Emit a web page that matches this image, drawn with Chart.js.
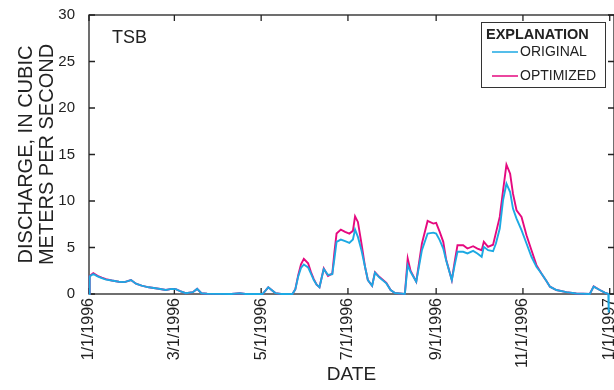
<!DOCTYPE html>
<html lang="en">
<head>
  <meta charset="UTF-8">
  <title>TSB Discharge</title>
  <script src="https://cdn.jsdelivr.net/npm/chart.js"></script>
</head>
<style>
  html, body {
    margin: 0;
    padding: 0;
    background: #ffffff;
  }
  .wrap {
    width: 614px;
    height: 390px;
  }
</style>
<body>

<div class="wrap">
  <canvas id="flowChart" width="614" height="390"></canvas>
</div>

<script>
  // days since 1/1/1996
  const days = [
    0, 0.5, 3, 6, 9, 12, 16, 21, 25, 29.5, 33, 37, 42, 49, 54, 58, 61, 64, 68, 73,
    76, 79, 83, 100, 106, 110, 122, 126, 131, 135, 143, 145, 147, 149, 151, 154, 156, 158, 160, 162,
    165, 168, 171, 172.5, 174, 177, 180, 183, 185.5, 187, 189, 191.5, 194, 196, 199, 201, 204, 209, 212, 215,
    222, 224, 226, 230, 234, 238, 242, 244, 246.5, 249, 251, 255, 257, 259, 263, 266, 270, 273, 276, 277.5,
    280.5, 284, 286, 288.7, 291, 293.4, 296, 298, 300.5, 304, 307.5, 311, 314.5, 318, 321.5, 324, 328.5, 335.5, 342.5, 352,
    354.7, 359, 362.5, 365, 365.3
  ];

  const originalFlow = [
    0, 1.9, 2.15, 1.9, 1.7, 1.55, 1.45, 1.32, 1.28, 1.5, 1.1, 0.9, 0.72, 0.57, 0.43, 0.55, 0.52, 0.3, 0.08, 0.2,
    0.55, 0.08, 0.02, 0, 0.08, 0, 0, 0.72, 0.1, 0, 0, 0.5, 1.86, 2.8, 3.18, 2.86, 2.2, 1.5, 1.0, 0.72,
    2.68, 2.04, 2.14, 3.8, 5.6, 5.85, 5.68, 5.5, 5.86, 6.93, 6.14, 4.71, 2.93, 1.5, 0.89, 2.29, 1.79, 1.14, 0.43, 0.1,
    0, 3.1, 2.39, 1.32, 4.71, 6.5, 6.6, 6.5, 5.79, 4.89, 3.64, 1.5, 3.1, 4.54, 4.54, 4.36, 4.64, 4.36, 4.0, 5.07,
    4.71, 4.6, 5.43, 7.04, 10.07, 11.86, 10.96, 9.18, 8.11, 6.86, 5.43, 4.0, 2.93, 2.2, 1.4, 0.79, 0.43, 0.2, 0.05, 0,
    0.79, 0.43, 0.15, 0, -2
  ];

  const optimizedFlow = [
    0, 1.95, 2.25, 1.95, 1.75, 1.6, 1.45, 1.32, 1.28, 1.5, 1.1, 0.9, 0.72, 0.57, 0.43, 0.55, 0.52, 0.3, 0.08, 0.2,
    0.55, 0.08, 0.02, 0, 0.08, 0, 0, 0.72, 0.1, 0, 0, 0.5, 2.0, 3.2, 3.78, 3.3, 2.35, 1.6, 1.0, 0.72,
    2.75, 1.95, 2.2, 4.5, 6.5, 6.93, 6.68, 6.5, 6.79, 8.36, 7.75, 5.43, 2.93, 1.5, 0.89, 2.35, 1.85, 1.2, 0.43, 0.1,
    0, 3.82, 2.5, 1.32, 5.43, 7.86, 7.57, 7.64, 6.68, 5.61, 3.7, 1.5, 3.46, 5.25, 5.25, 4.89, 5.14, 4.89, 4.71, 5.61,
    5.07, 5.3, 6.57, 8.29, 11.1, 13.9, 12.93, 10.79, 9.0, 8.29, 6.32, 4.71, 3.1, 2.21, 1.4, 0.79, 0.43, 0.2, 0.05, 0,
    0.82, 0.43, 0.15, 0, 0
  ];

  const tickDays = [0, 60, 121, 182, 244, 305, 366];
  const tickLabels = ['1/1/1996', '3/1/1996', '5/1/1996', '7/1/1996', '9/1/1996', '11/1/1996', '1/1/1997'];
  const yTicks = [0, 5, 10, 15, 20, 25, 30];
  const seriesNames = ['ORIGINAL', 'OPTIMIZED'];
  const seriesColors = ['#1ca9e3', '#e5097f'];

  const ink = '#222222';
  const fontFamily = '"Liberation Sans", Arial, sans-serif';

  // frame, inward ticks, site label and explanation box
  const framePlugin = {
    id: 'frame',
    beforeDatasetsDraw(chart) {
      const { ctx, chartArea: a, scales } = chart;
      const len = 6;
      ctx.save();
      ctx.strokeStyle = ink;
      ctx.lineWidth = 1.3;
      ctx.strokeRect(a.left, a.top, a.right - a.left, a.bottom - a.top);
      ctx.beginPath();
      scales.x.ticks.forEach((t, i) => {
        const px = scales.x.getPixelForTick(i);
        ctx.moveTo(px, a.bottom); ctx.lineTo(px, a.bottom - len);
        ctx.moveTo(px, a.top); ctx.lineTo(px, a.top + len);
      });
      scales.y.ticks.forEach((t, i) => {
        const py = scales.y.getPixelForTick(i);
        ctx.moveTo(a.left, py); ctx.lineTo(a.left + len, py);
        ctx.moveTo(a.right, py); ctx.lineTo(a.right - len, py);
      });
      ctx.stroke();
      ctx.restore();
    },
    afterDatasetsDraw(chart) {
      const { ctx } = chart;
      ctx.save();
      ctx.fillStyle = ink;
      ctx.textBaseline = 'middle';
      ctx.font = '18px ' + fontFamily;
      ctx.fillText('TSB', 112, 38);

      // explanation box
      ctx.fillStyle = '#ffffff';
      ctx.fillRect(481, 22, 124, 65);
      ctx.strokeStyle = '#333333';
      ctx.lineWidth = 1;
      ctx.strokeRect(481.5, 22.5, 124, 65);
      ctx.fillStyle = ink;
      ctx.font = 'bold 14.5px ' + fontFamily;
      ctx.fillText('EXPLANATION', 486, 35);
      ctx.font = '14px ' + fontFamily;
      chart.data.datasets.forEach((ds, i) => {
        const y = 52 + i * 24;
        ctx.strokeStyle = ds.borderColor;
        ctx.lineWidth = 1.5;
        ctx.beginPath();
        ctx.moveTo(492, y);
        ctx.lineTo(518, y);
        ctx.stroke();
        ctx.fillText(ds.label, 520, y);
      });
      ctx.restore();
    }
  };

  const ctx = document.getElementById('flowChart').getContext('2d');
  const flowChart = new Chart(ctx, {
    type: 'line',
    data: {
      datasets: [
        {
          label: seriesNames[0],
          data: days.map((d, i) => ({ x: d, y: originalFlow[i] })),
          borderColor: seriesColors[0],
          borderWidth: 1.9,
          pointRadius: 0,
          tension: 0,
          clip: { left: 2, top: 2, right: 2, bottom: 20 }
        },
        {
          label: seriesNames[1],
          data: days.map((d, i) => ({ x: d, y: optimizedFlow[i] })),
          borderColor: seriesColors[1],
          borderWidth: 1.9,
          pointRadius: 0,
          tension: 0,
          clip: { left: 2, top: 2, right: 2, bottom: 20 }
        }
      ]
    },
    options: {
      responsive: false,
      animation: false,
      layout: { padding: { top: 14, right: 0, left: 0, bottom: 0 } },
      plugins: {
        legend: { display: false },
        tooltip: { enabled: false }
      },
      scales: {
        x: {
          type: 'linear',
          min: 0,
          max: 369,
          afterBuildTicks: s => { s.ticks = tickDays.map(v => ({ value: v })); },
          afterFit: s => { s.height = 96; s.paddingLeft = 0; s.paddingRight = 0; },
          grid: { display: false },
          border: { display: false },
          ticks: {
            autoSkip: false,
            minRotation: 90,
            maxRotation: 90,
            padding: -4,
            color: ink,
            font: { family: fontFamily, size: 16 },
            callback: v => tickLabels[tickDays.indexOf(v)]
          },
          title: {
            display: true,
            text: 'DATE',
            color: ink,
            font: { family: fontFamily, size: 19 },
            padding: { top: 0, bottom: 4 }
          }
        },
        y: {
          min: 0,
          max: 30,
          afterBuildTicks: s => { s.ticks = yTicks.map(v => ({ value: v })); },
          afterFit: s => { s.width = 89; },
          grid: { display: false },
          border: { display: false },
          ticks: {
            padding: 6,
            color: ink,
            font: { family: fontFamily, size: 15 }
          },
          title: {
            display: true,
            text: ['DISCHARGE, IN CUBIC', 'METERS PER SECOND'],
            color: ink,
            font: { family: fontFamily, size: 20, lineHeight: 1.06 },
            padding: { top: 16, bottom: 0 }
          }
        }
      }
    },
    plugins: [framePlugin]
  });
</script>
</body>
</html>
